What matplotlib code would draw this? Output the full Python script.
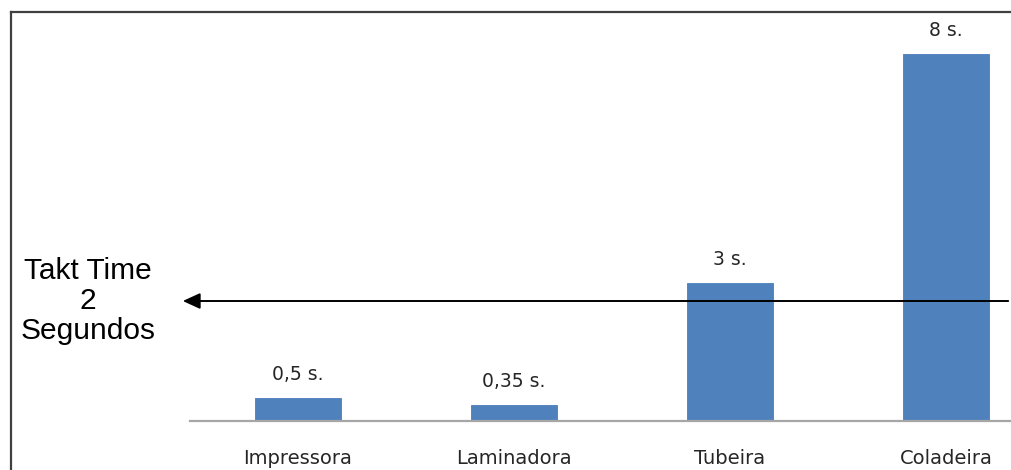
import matplotlib.pyplot as plt
from matplotlib.lines import Line2D
from matplotlib.patches import FancyArrowPatch

# tempo de ciclo por máquina (segundos)
maquinas = ['Impressora', 'Laminadora', 'Tubeira', 'Coladeira']
tempos = [0.5, 0.35, 3, 8]
rotulos = ['0,5 s.', '0,35 s.', '3 s.', '8 s.']
takt_texto = 'Takt Time\n2\nSegundos'

fig = plt.figure(figsize=(10.11, 4.70), dpi=100)
ax = fig.add_axes([0.1879, 0.1043, 0.8546, 0.8785])

x = range(len(maquinas))
ax.bar(x, tempos, width=0.4, color='#4F81BD', edgecolor='#4A7EBB', linewidth=0.6)
for i, (t, r) in enumerate(zip(tempos, rotulos)):
    ax.annotate(r, (i, t), xytext=(0, 10), textcoords='offset points',
                ha='center', va='bottom', fontsize=13.5, color='#262626')

ax.set_xlim(-0.5, 3.5)
ax.set_ylim(0, 9)
ax.set_xticks(list(x))
ax.set_xticklabels(maquinas, fontsize=14, color='#262626')
ax.tick_params(axis='x', length=0, pad=20)
ax.set_yticks([])
for s in ['top', 'left', 'right']:
    ax.spines[s].set_visible(False)
ax.spines['bottom'].set_color('#A6A6A6')
ax.spines['bottom'].set_linewidth(1.6)

# moldura (esquerda e topo)
fig.add_artist(Line2D([11 / 1011, 11 / 1011], [0, 1 - 12 / 470],
                      color='#404040', lw=1.6, transform=fig.transFigure))
fig.add_artist(Line2D([11 / 1011, 1], [1 - 12 / 470, 1 - 12 / 470],
                      color='#404040', lw=1.6, transform=fig.transFigure))

# seta do takt time
ya = 1 - 301 / 470
fig.add_artist(FancyArrowPatch(
    (1.0, ya), (180 / 1011, ya), transform=fig.transFigure,
    arrowstyle='-|>,head_length=7,head_width=3.2', color='black', lw=1.4,
    mutation_scale=1.5))
fig.text(88 / 1011, ya, takt_texto, ha='center', va='center',
         multialignment='center', fontsize=21.5, family='Liberation Sans',
         color='black', linespacing=1.07)

fig.savefig('out.png', dpi=100)
